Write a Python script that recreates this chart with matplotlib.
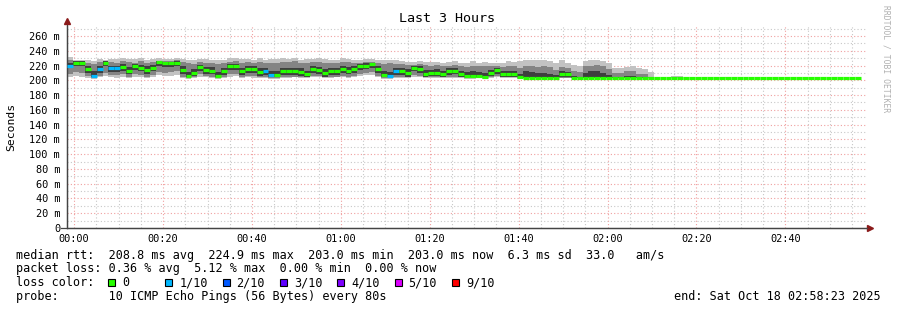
import matplotlib
matplotlib.use("Agg")
import matplotlib.pyplot as plt
from matplotlib.patches import Rectangle

W, H = 897, 310

# time axis in minutes relative to 00:00, one RRD step = 80 s
start_min = -1.617
end_min = 178.383
step_min = 80 / 60

# median rtt per step (ms)
median_ms = [
    220, 224, 224, 215, 206, 215, 224, 216, 216, 218,
    213, 219, 217, 214, 217, 224.9, 223, 223, 224, 214,
    206, 210, 218, 214, 213, 206, 212, 219, 219, 212,
    215, 215, 211, 212, 207, 207, 212, 212, 212, 211,
    208, 215, 214, 210, 212, 212, 215, 213, 215, 219,
    220, 222, 215, 207, 206, 212, 212, 210, 217, 215,
    209, 210, 210, 209, 212, 213, 208, 206, 206, 206,
    205, 210, 214, 208, 208, 208, 205, 203, 203, 203,
    203, 203, 203, 208, 208, 203, 203, 203, 203, 203,
    203, 203, 203, 203, 203, 203, 203, 203, 203, 203,
    203, 203, 203, 203, 203, 203, 203, 203, 203, 203,
    203, 203, 203, 203, 203, 203, 203, 203, 203, 203,
    203, 203, 203, 203, 203, 203, 203, 203, 203, 203,
    203, 203, 203, 203,
]

# lost pings out of 10 per step
loss_tenths = [
    1, 0, 0, 0, 1, 1, 0, 1, 1, 0,
    0, 0, 0, 0, 0, 0, 0, 0, 0, 0,
    0, 0, 0, 0, 0, 0, 0, 0, 0, 0,
    0, 0, 0, 1, 1, 0, 0, 0, 0, 0,
    0, 0, 0, 0, 0, 0, 0, 0, 0, 0,
    0, 0, 0, 0, 1, 1, 0, 0, 0, 0,
    0, 0, 0, 0, 0, 0, 0, 0, 0, 0,
    0, 0, 0, 0, 0, 0, 0, 0, 0, 0,
    0, 0, 0, 0, 0, 0, 0, 0, 0, 0,
    0, 0, 0, 0, 0, 0, 0, 0, 0, 0,
    0, 0, 0, 0, 0, 0, 0, 0, 0, 0,
    0, 0, 0, 0, 0, 0, 0, 0, 0, 0,
    0, 0, 0, 0, 0, 0, 0, 0, 0, 0,
    0, 0, 0, 0,
]

# smoke: sorted ping percentiles per step (ms)
smoke_max = [
    231, 227, 227, 228, 226, 229, 228, 229, 229, 230,
    229, 229, 230, 228, 229, 230, 229, 229, 230, 229,
    228, 227, 229, 229, 228, 227, 228, 230, 230, 229,
    229, 228, 230, 228, 229, 229, 230, 229, 230, 228,
    229, 229, 230, 229, 228, 227, 230, 229, 228, 228,
    229, 229, 228, 227, 228, 227, 226, 225, 225, 226,
    225, 225, 225, 224, 225, 226, 223, 223, 226, 224,
    225, 224, 223, 224, 226, 225, 226, 228, 228, 227,
    227, 226, 223, 228, 224, 221, 220, 226, 227, 228,
    226, 224, 216, 216, 218, 219, 216, 215, 211, 203,
    203, 203, 206, 206, 203, 203, 203, 203, 203, 203,
    203, 205, 203, 203, 203, 203, 203, 203, 203, 203,
    203, 203, 203, 203, 203, 203, 203, 203, 203, 203,
    203, 203, 203, 203,
]
smoke_p9 = [
    227, 223, 223, 224, 222, 225, 224, 225, 224, 226,
    225, 224, 226, 224, 225, 226, 226, 226, 227, 225,
    223, 222, 225, 224, 224, 222, 224, 225, 226, 224,
    225, 224, 225, 224, 224, 223, 225, 225, 226, 224,
    224, 225, 225, 224, 224, 223, 225, 225, 224, 224,
    225, 225, 223, 222, 223, 222, 222, 221, 221, 222,
    221, 220, 221, 220, 220, 221, 219, 218, 220, 219,
    219, 219, 220, 218, 220, 219, 217, 220, 219, 218,
    219, 218, 214, 218, 216, 213, 211, 219, 220, 221,
    219, 215, 210, 210, 212, 212, 209, 208, 205, 203,
    203, 203, 203, 203, 203, 203, 203, 203, 203, 203,
    203, 203, 203, 203, 203, 203, 203, 203, 203, 203,
    203, 203, 203, 203, 203, 203, 203, 203, 203, 203,
    203, 203, 203, 203,
]
smoke_p7 = [
    224, 226, 226, 220, 212, 219, 226, 220, 220, 222,
    218, 222, 221, 219, 221, 226, 225, 225, 226, 219,
    211, 215, 221, 218, 218, 211, 217, 222, 222, 217,
    219, 219, 216, 217, 212, 212, 217, 217, 217, 216,
    213, 219, 218, 215, 217, 217, 219, 218, 219, 222,
    223, 224, 219, 212, 211, 216, 216, 215, 220, 219,
    214, 214, 215, 213, 216, 217, 213, 211, 212, 211,
    210, 214, 217, 213, 213, 213, 209, 212, 211, 210,
    210, 208, 207, 212, 211, 206, 205, 210, 212, 212,
    210, 207, 205, 205, 206, 206, 205, 204, 203, 203,
    203, 203, 203, 203, 203, 203, 203, 203, 203, 203,
    203, 203, 203, 203, 203, 203, 203, 203, 203, 203,
    203, 203, 203, 203, 203, 203, 203, 203, 203, 203,
    203, 203, 203, 203,
]
smoke_p4 = [
    216, 219, 219, 210, 204, 210, 219, 211, 211, 213,
    208, 214, 212, 209, 212, 219, 218, 218, 219, 209,
    204, 206, 213, 209, 208, 204, 207, 214, 214, 207,
    210, 210, 206, 207, 204, 204, 207, 207, 207, 206,
    205, 210, 209, 205, 207, 207, 210, 208, 210, 214,
    215, 217, 210, 204, 204, 207, 207, 205, 212, 210,
    205, 206, 206, 205, 207, 208, 205, 204, 204, 204,
    204, 206, 209, 205, 205, 205, 204, 203, 203, 203,
    203, 203, 203, 205, 205, 203, 203, 203, 203, 203,
    203, 203, 203, 203, 203, 203, 203, 203, 203, 203,
    203, 203, 203, 203, 203, 203, 203, 203, 203, 203,
    203, 203, 203, 203, 203, 203, 203, 203, 203, 203,
    203, 203, 203, 203, 203, 203, 203, 203, 203, 203,
    203, 203, 203, 203,
]
smoke_p2 = [
    208, 211, 210, 206, 203, 206, 210, 207, 207, 208,
    205, 209, 207, 205, 207, 211, 210, 211, 212, 205,
    203, 204, 208, 206, 205, 203, 205, 209, 209, 205,
    206, 206, 204, 205, 203, 203, 205, 205, 205, 204,
    204, 206, 206, 204, 205, 205, 206, 205, 206, 209,
    210, 211, 206, 203, 203, 205, 205, 204, 207, 206,
    204, 204, 204, 204, 205, 205, 204, 203, 203, 203,
    203, 204, 206, 204, 204, 204, 203, 203, 203, 203,
    203, 203, 203, 203, 203, 203, 203, 203, 203, 203,
    203, 203, 203, 203, 203, 203, 203, 203, 203, 203,
    203, 203, 203, 203, 203, 203, 203, 203, 203, 203,
    203, 203, 203, 203, 203, 203, 203, 203, 203, 203,
    203, 203, 203, 203, 203, 203, 203, 203, 203, 203,
    203, 203, 203, 203,
]
smoke_min = [
    205, 206, 205, 203, 202, 204, 206, 204, 203, 205,
    203, 205, 204, 203, 204, 207, 206, 206, 207, 203,
    202, 203, 205, 204, 203, 202, 203, 205, 206, 203,
    204, 203, 203, 203, 202, 202, 203, 203, 204, 203,
    203, 204, 204, 203, 203, 204, 204, 203, 204, 206,
    207, 207, 204, 202, 202, 203, 203, 203, 205, 204,
    203, 203, 203, 203, 203, 203, 203, 202, 202, 203,
    202, 203, 204, 203, 203, 203, 202, 203, 203, 203,
    203, 203, 203, 203, 203, 203, 203, 203, 203, 203,
    203, 203, 203, 203, 203, 203, 203, 203, 203, 203,
    203, 203, 203, 203, 203, 203, 203, 203, 203, 203,
    203, 203, 203, 203, 203, 203, 203, 203, 203, 203,
    203, 203, 203, 203, 203, 203, 203, 203, 203, 203,
    203, 203, 203, 203,
]

loss_levels = [0, 1, 2, 3, 4, 5, 9]
loss_labels = ["0", "1/10", "2/10", "3/10", "4/10", "5/10", "9/10"]
loss_colors = ["#26ff00", "#00b8ff", "#0059ff", "#5e00ff", "#7e00ff", "#dd00ff", "#ff0000"]

x_tick_pos = [0, 20, 40, 60, 80, 100, 120, 140, 160]
x_tick_labels = ["00:00", "00:20", "00:40", "01:00", "01:20", "01:40", "02:00", "02:20", "02:40"]
y_tick_pos = [0, 20, 40, 60, 80, 100, 120, 140, 160, 180, 200, 220, 240, 260]
y_tick_labels = ["0"] + [f"{v} m" for v in y_tick_pos[1:]]

legend_lines = [
    "median rtt:  208.8 ms avg  224.9 ms max  203.0 ms min  203.0 ms now  6.3 ms sd  33.0   am/s",
    "packet loss: 0.36 % avg  5.12 % max  0.00 % min  0.00 % now",
    "loss color:",
    "probe:       10 ICMP Echo Pings (56 Bytes) every 80s",
]
end_text = "end: Sat Oct 18 02:58:23 2025"

series = [median_ms, loss_tenths, smoke_max, smoke_p9, smoke_p7, smoke_p4, smoke_p2, smoke_min]
assert all(len(s) == len(median_ms) for s in series), [len(s) for s in series]

plt.rcParams["font.family"] = ["DejaVu Sans Mono"]

fig = plt.figure(figsize=(W / 100, H / 100), dpi=100)
fig.patch.set_facecolor("white")
ax = fig.add_axes([67 / W, 1 - 228 / H, (867 - 67) / W, (228 - 26) / H])
ax.set_xlim(start_min, end_min)
ax.set_ylim(0, 273.5)

# grid
for x in range(5, 180, 5):
    if x % 20:
        ax.axvline(x, color="#c8c8c8", lw=0.8, ls=(0, (1, 2)), zorder=0)
for x in x_tick_pos:
    ax.axvline(x, color="#f0a0a0", lw=0.8, ls=(0, (1, 2)), zorder=0.5)
for y in range(10, 280, 20):
    ax.axhline(y, color="#c8c8c8", lw=0.8, ls=(0, (1, 2)), zorder=0)
for y in y_tick_pos[1:]:
    ax.axhline(y, color="#f0a0a0", lw=0.8, ls=(0, (1, 2)), zorder=0.5)

# smoke
n = len(median_ms)
t_left = [start_min + i * step_min for i in range(n)]
t_edges = t_left + [t_left[-1] + step_min]


def band(lo, hi, color):
    ax.fill_between(t_edges, lo + [lo[-1]], hi + [hi[-1]], step="post",
                    color=color, lw=0, zorder=2)


band(smoke_min, smoke_max, "#c2c2c2")
band(smoke_p2, smoke_p9, "#848484")
band(smoke_p4, smoke_p7, "#3e3e3e")

# median coloured by loss
med_colors = [loss_colors[loss_levels.index(l)] for l in loss_tenths]
ax.hlines(median_ms, t_left, t_edges[1:], colors=med_colors, lw=2.3, zorder=3)

# axes
for s in ["top", "right"]:
    ax.spines[s].set_visible(False)
ax.spines["left"].set_color("#444444")
ax.spines["bottom"].set_color("#444444")
ax.spines["left"].set_linewidth(0.9)
ax.spines["bottom"].set_linewidth(0.9)
ax.plot([-0.007, 1.0], [0, 0], transform=ax.transAxes, color="#444444", lw=0.9, clip_on=False)
ax.plot([0, 0], [0, 1.02], transform=ax.transAxes, color="#444444", lw=0.9, clip_on=False)
ax.plot([1.004], [0], marker=">", ms=4, color="#8b1a1a", transform=ax.transAxes, clip_on=False)
ax.plot([0], [1.025], marker="^", ms=4, color="#8b1a1a", transform=ax.transAxes, clip_on=False)

ax.set_xticks(x_tick_pos)
ax.set_xticklabels(x_tick_labels)
ax.set_yticks(y_tick_pos)
ax.set_yticklabels(y_tick_labels)
ax.tick_params(axis="x", length=0, pad=4, labelsize=7.4)
ax.tick_params(axis="y", length=0, pad=5, labelsize=7.4)

# texts
fig.text(447 / W, 1 - 19 / H, "Last 3 Hours", ha="center", va="center", fontsize=9.6)
fig.text(11 / W, 1 - 127 / H, "Seconds", rotation=90, ha="center", va="center", fontsize=8.2)
fig.text(886 / W, 1 - 59 / H, "RRDTOOL / TOBI OETIKER", rotation=270, ha="center",
         va="center", fontsize=5.8, color="#b0b0b0")

legend_y = [255, 268.5, 282.5, 296.5]
for txt, y in zip(legend_lines, legend_y):
    fig.text(16 / W, 1 - y / H, txt, ha="left", va="center", fontsize=8.5)
fig.text(881 / W, 1 - 296.5 / H, end_text, ha="right", va="center", fontsize=8.5)

for k, (lab, col) in enumerate(zip(loss_labels, loss_colors)):
    sx = 108 + k * 57.3
    fig.add_artist(Rectangle((sx / W, 1 - 286 / H), 7 / W, 7 / H, transform=fig.transFigure,
                             facecolor=col, edgecolor="black", lw=0.8))
    fig.text((sx + 14) / W, 1 - 282.5 / H, lab, ha="left", va="center", fontsize=8.5)

fig.savefig("out.png", dpi=100)
